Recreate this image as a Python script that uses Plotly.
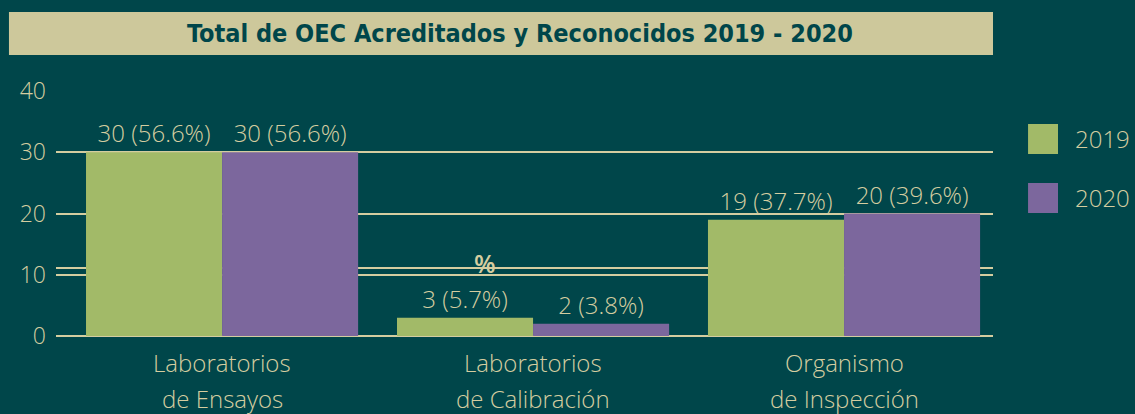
import plotly.graph_objects as go

categories = ["Laboratorios<br>de Ensayos", "Laboratorios<br>de Calibración", "Organismo<br>de Inspección"]
series_names = ["2019", "2020"]
values_2019 = [30, 3, 19]
values_2020 = [30, 2, 20]
pct_2019 = [56.6, 5.7, 37.7]
pct_2020 = [56.6, 3.8, 39.6]
y_ticks = [0, 10, 20, 30, 40]
title_text = "Total de OEC Acreditados y Reconocidos 2019 - 2020"

BG = "#00464a"
BEIGE = "#d4cda0"
BOX = "#cdc89b"
GREEN = "#a2ba68"
PURPLE = "#7c679d"
FONT = "Open Sans, Noto Sans, sans-serif"
FS = 24

fig = go.Figure()
for name, vals, pcts, col in [(series_names[0], values_2019, pct_2019, GREEN),
                              (series_names[1], values_2020, pct_2020, PURPLE)]:
    fig.add_trace(go.Bar(
        x=list(range(len(categories))), y=vals, name=name,
        marker=dict(color=col, line=dict(width=0)),
        text=[f"{v} ({p}%)" for v, p in zip(vals, pcts)],
        textposition="outside", constraintext="none", cliponaxis=False,
        textfont=dict(color=BEIGE, size=FS, family=FONT, weight=300),
        showlegend=False,
    ))

fig.update_layout(
    width=1135, height=414,
    margin=dict(l=56, r=142, t=91, b=78),
    paper_bgcolor=BG, plot_bgcolor=BG,
    barmode="group", bargap=0.125, bargroupgap=0,
    font=dict(family=FONT, color=BEIGE, size=FS, weight=300),
    xaxis=dict(range=[-0.534, 2.479], showticklabels=False, showgrid=False,
               zeroline=False, showline=False, ticks=""),
    yaxis=dict(range=[0, 40], tickvals=y_ticks, showgrid=True, gridcolor=BEIGE,
               gridwidth=2, zeroline=True, zerolinecolor=BEIGE, zerolinewidth=2,
               showline=False, ticks="", ticklabelstandoff=9,
               tickfont=dict(size=23, color=BEIGE, family=FONT, weight=300)),
)

# category labels (two lines each, wide spacing)
for i, cat in enumerate(categories):
    lines = cat.split("<br>")
    for j, line in enumerate(lines):
        fig.add_annotation(x=i, y=0, xref="x", yref="y", text=line, showarrow=False,
                           yanchor="middle", yshift=-26 - 36 * j,
                           font=dict(size=FS, color=BEIGE, family=FONT, weight=300))

# title box
fig.add_shape(type="rect", xref="paper", yref="paper", x0=-0.0502, x1=1.0,
              y0=1.1469, y1=1.3224, fillcolor=BOX, line=dict(width=0), layer="below")
fig.add_annotation(xref="paper", yref="paper", x=0.495, y=1.2347, yanchor="middle",
                   xanchor="center", text=f"<b>{title_text}</b>",
                   showarrow=False, font=dict(size=25, color=BG,
                   family="DejaVu Sans Condensed, sans-serif"))

# extra double gridline near 10
fig.add_shape(type="line", xref="paper", yref="y", x0=0, x1=1, y0=11.1, y1=11.1,
              line=dict(color=BEIGE, width=2), layer="below")
# stray percent sign
fig.add_annotation(x=0.846, y=11.9, xref="x", yref="y", text="%", showarrow=False,
                   font=dict(size=25, color=BEIGE, family=FONT, weight=600))

# manual legend
for k, (name, col) in enumerate(zip(series_names, [GREEN, PURPLE])):
    y_top = 0.8653 - k * 0.2408
    fig.add_shape(type="rect", xref="paper", yref="paper", x0=1.0374, x1=1.0694,
                  y0=y_top - 0.1224, y1=y_top, fillcolor=col, line=dict(width=0))
    fig.add_annotation(xref="paper", yref="paper", x=1.0854, y=y_top - 0.0612,
                       xanchor="left", yanchor="middle", text=name, showarrow=False,
                       font=dict(size=FS, color=BEIGE, family=FONT, weight=300))

fig.write_html("out.html", config={"displayModeBar": False},
               post_script="document.body.style.margin='0';document.body.style.background='%s';" % BG)
